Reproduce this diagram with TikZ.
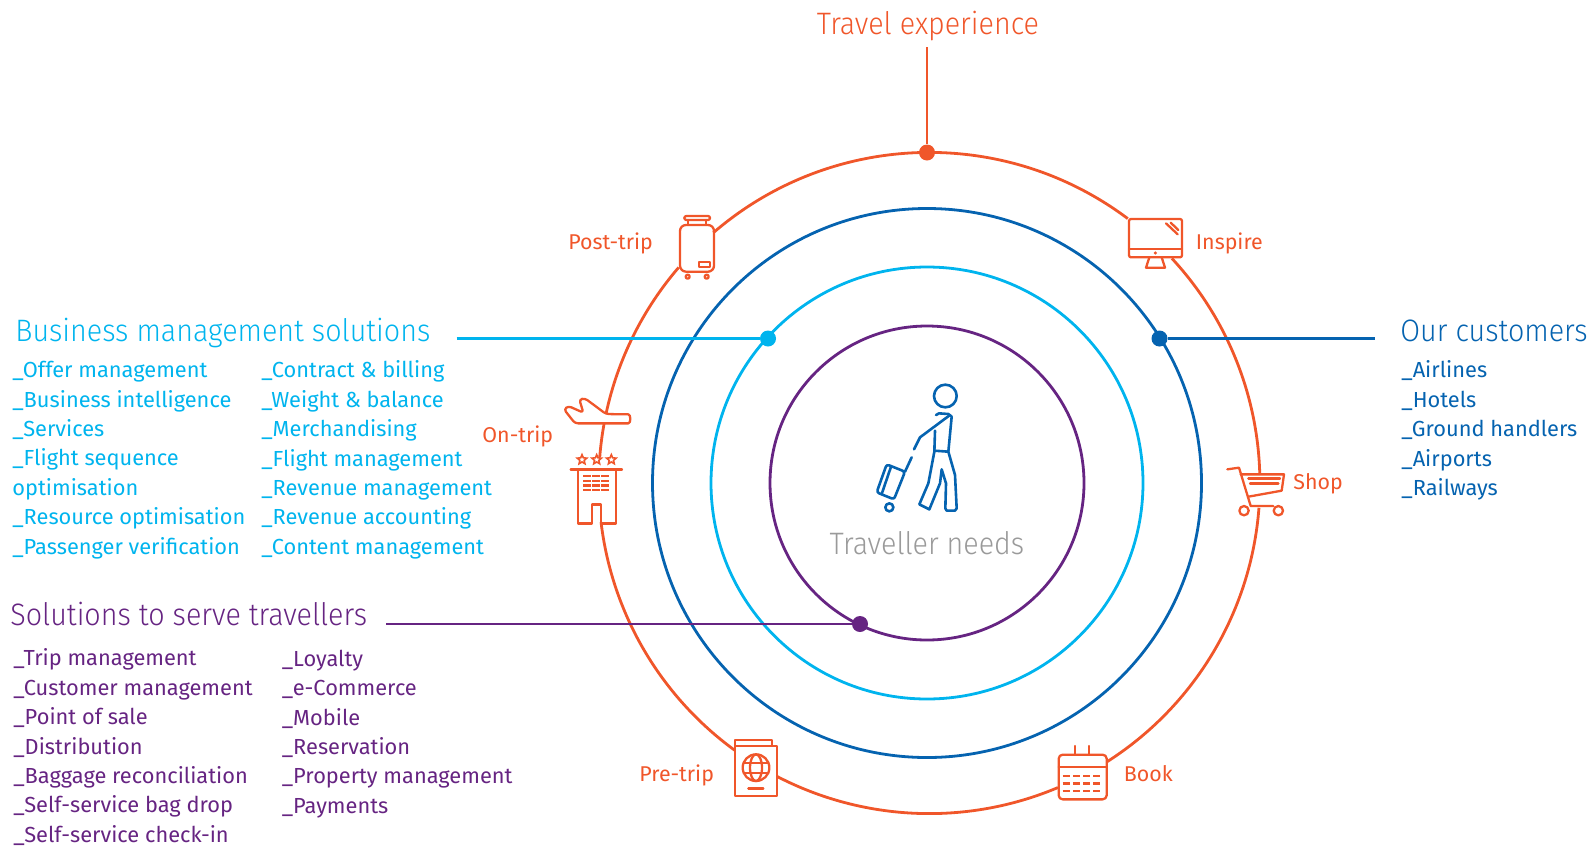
\documentclass[tikz,border=0pt]{standalone}
\usepackage{fontspec}
\setmainfont{Fira Sans}
\newfontfamily\lightfont[FakeStretch=0.925]{Fira Sans Light}
\usetikzlibrary{positioning, shapes}

\definecolor{tripcol}{HTML}{F0562A}
\definecolor{bluecol}{HTML}{0563B0}
\definecolor{cyancol}{HTML}{00B4EE}
\definecolor{purplecol}{HTML}{662482}
\definecolor{greycol}{HTML}{9A9A9A}

\tikzset{
    ring/.style={line width=1.4pt},
    icon/.style={draw=tripcol, line width=1.15pt, line join=round, line cap=round},
    walker/.style={draw=bluecol, line width=1.3pt, line join=round, line cap=round},
    zoomed/.style={shift={#1}, x=0.16667pt, y=-0.16667pt},
    spot/.style={circle, fill=#1, inner sep=0pt, minimum size=8pt},
    heading/.style={font=\lightfont\fontsize{15.5}{19}\selectfont, inner sep=0pt},
    stage/.style={font=\fontsize{10.7}{13}\selectfont, text=tripcol, inner sep=0pt},
    items/.style={font=\fontsize{10.9}{14.7}\selectfont, align=left, inner sep=0pt, anchor=north west},
    hotelstar/.style={star, star points=5, star point ratio=2.2, draw=tripcol, line width=0.8pt, inner sep=0pt, minimum size=5pt}
}

\begin{document}
\begin{tikzpicture}[x=0.5pt, y=-0.5pt]
    \useasboundingbox (0,0) rectangle (1594,847);

    % Rings
    \coordinate (centre) at (927,483);
    \coordinate (tripcentre) at (929.3,483);
    \draw[ring, purplecol] (centre) circle[radius=157];
    \draw[ring, cyancol] (centre) circle[radius=216];
    \draw[ring, bluecol] (centre) circle[radius=274.5];

    % Outer ring, cut at the icons
    \draw[ring, tripcol] (tripcentre) ++(229.2:330.6) arc[start angle=229.2, end angle=306.9, radius=330.6];
    \draw[ring, tripcol] (tripcentre) ++(-42.8:330.6) arc[start angle=-42.8, end angle=-1.7, radius=330.6];
    \draw[ring, tripcol] (tripcentre) ++(4.3:330.6) arc[start angle=4.3, end angle=57.5, radius=330.6];
    \draw[ring, tripcol] (tripcentre) ++(67.1:330.6) arc[start angle=67.1, end angle=117.4, radius=330.6];
    \draw[ring, tripcol] (tripcentre) ++(126.1:330.6) arc[start angle=126.1, end angle=173.2, radius=330.6];
    \draw[ring, tripcol] (tripcentre) ++(184.5:330.6) arc[start angle=184.5, end angle=190.3, radius=330.6];
    \draw[ring, tripcol] (tripcentre) ++(192.2:330.6) arc[start angle=192.2, end angle=220.7, radius=330.6];

    % Nodes
    \node[spot=tripcol] (expspot) at (927,152.5) {};
    \node[spot=cyancol] (bizspot) at (768,338.5) {};
    \node[spot=bluecol] (custspot) at (1159.5,338.5) {};
    \node[spot=purplecol] (servespot) at (860,624) {};
    \coordinate (expend) at (927,47);
    \coordinate (bizend) at (456.5,338.5);
    \coordinate (custend) at (1374.5,338.5);
    \coordinate (serveend) at (386,624);

    \node[heading, text=tripcol] (exptitle) at (928,26) {Travel experience};
    \node[heading, text=greycol] (needs) at (927,543) {Traveller needs};
    \node[heading, text=cyancol, anchor=west] (biztitle) at (15,333) {Business management solutions};
    \node[heading, text=bluecol, anchor=west] (custtitle) at (1400,331) {Our customers};
    \node[heading, text=purplecol, anchor=west] (servetitle) at (10,614) {Solutions to serve travellers};

    \node[stage, anchor=west] (posttrip) at (568,243) {Post-trip};
    \node[stage, anchor=west] (inspire) at (1195.5,243) {Inspire};
    \node[stage, anchor=west] (ontrip) at (482,436) {On-trip};
    \node[stage, anchor=west] (shop) at (1293,484) {Shop};
    \node[stage, anchor=west] (pretrip) at (639,775) {Pre-trip};
    \node[stage, anchor=west] (book) at (1123.5,774) {Book};

    \node[items, text=cyancol] (bizleft) at (12,361) {\_Offer management\\\_Business intelligence\\\_Services\\\_Flight sequence\\optimisation\\\_Resource optimisation\\\_Passenger verification};
    \node[items, text=cyancol] (bizright) at (261,360.5) {\_Contract \& billing\\\_Weight \& balance\\\_Merchandising\\\_Flight management\\\_Revenue management\\\_Revenue accounting\\\_Content management};
    \node[items, text=bluecol] (custlist) at (1401,360.5) {\_Airlines\\\_Hotels\\\_Ground handlers\\\_Airports\\\_Railways};
    \node[items, text=purplecol] (serveleft) at (13,648.5) {\_Trip management\\\_Customer management\\\_Point of sale\\\_Distribution\\\_Baggage reconciliation\\\_Self-service bag drop\\\_Self-service check-in};
    \node[items, text=purplecol] (serveright) at (281.5,649.5) {\_Loyalty\\\_e-Commerce\\\_Mobile\\\_Reservation\\\_Property management\\\_Payments};

    % Connections
    \draw[ring, tripcol] (expend) -- (expspot);
    \draw[ring, cyancol] (bizend) -- (bizspot);
    \draw[ring, bluecol] (custend) -- (custspot);
    \draw[ring, purplecol] (serveend) -- (servespot);

    % Traveller
    \begin{scope}[zoomed={(840,360)}]
        \draw[walker] (316,108) circle[radius=34];
        \draw[walker] (288,165) -- (297,160) -- (325,162) -- (335,170) -- (325,275) -- (345,345) -- (350,445) -- (345,452) -- (320,452) -- (316,445) -- (318,370) -- (305,328) -- (300,370) -- (268,448) -- (238,433) -- (265,370) -- (283,275) -- (285,212);
        \draw[walker] (283,272) -- (325,275);
        \draw[walker] (330,165) -- (240,232) -- (222,268);
        \draw[walker] (215,292) -- (195,335);
        \draw[walker, rounded corners=1.3pt] (140,313) -- (195,335) -- (162,418) -- (110,397) -- cycle;
        \draw[walker] (153,320) -- (125,402);
        \draw[walker] (148,442) circle[radius=12];
    \end{scope}

    % Post-trip bag, plane and hotel
    \begin{scope}[zoomed={(540,200)}]
        \draw[icon, rounded corners=1pt] (433,48) rectangle (510,60);
        \draw[icon] (445,60) -- (445,75) (497,60) -- (497,75);
        \draw[icon, rounded corners=3pt] (420,75) rectangle (522,215);
        \draw[icon] (478,187) rectangle (510,202);
        \draw[icon] (443,230) circle[radius=6] (500,230) circle[radius=6];
        \draw[icon, rounded corners=1.5pt] (72,628) -- (85,618) -- (130,638) -- (118,598) -- (135,595) -- (198,642) -- (256,643) to[out=0, in=0, looseness=1.6] (256,670) -- (105,670) -- cycle;
        \node[hotelstar] (staronea) at (126,779) {};
        \node[hotelstar] (staroneb) at (170,779) {};
        \node[hotelstar] (staronec) at (214,779) {};
        \draw[icon] (92,808) -- (246,808);
        \draw[icon] (113,808) -- (113,970) -- (157,970) -- (157,913) -- (183,913) -- (183,970) -- (227,970) -- (227,808);
        \draw[icon, line cap=butt, dash pattern=on 3.9pt off 0.5pt] (130,828) -- (208,828) (130,842) -- (208,842) (130,856) -- (208,856) (130,870) -- (208,870);
    \end{scope}

    % Monitor and cart
    \begin{scope}[zoomed={(1110,200)}]
        \draw[icon, rounded corners=1pt] (57,57) rectangle (216,172);
        \draw[icon] (57,146) -- (216,146);
        \fill[tripcol] (136,159) circle[radius=5];
        \draw[icon] (168,70) -- (203,103) (182,68) -- (205,90);
        \draw[icon] (118,172) -- (108,203) -- (165,203) -- (155,172);
        \draw[icon] (352,808) -- (387,803) -- (422,918) -- (490,918);
        \draw[icon] (392,823) -- (522,823) -- (515,872) -- (415,890);
        \draw[icon] (415,835) -- (510,835) (420,850) -- (505,850);
        \draw[icon] (402,932) circle[radius=14] (505,932) circle[radius=14];
    \end{scope}

    % Passport and calendar
    \begin{scope}[zoomed={(720,720)}]
        \draw[icon] (45,77) -- (45,60) -- (157,60) -- (157,77);
        \draw[icon] (45,77) rectangle (170,227);
        \draw[icon] (108,143) circle[radius=40];
        \draw[icon] (108,143) ellipse[x radius=18, y radius=40];
        \draw[icon] (71,128) -- (145,128) (71,158) -- (145,158);
        \draw[icon] (85,205) -- (130,205);
        \draw[icon, rounded corners=2pt] (1016,104) rectangle (1160,238);
        \draw[icon] (1016,140) -- (1160,140);
        \draw[icon] (1065,78) -- (1065,104) (1107,78) -- (1107,104);
        \draw[icon, line cap=butt, dash pattern=on 3.5pt off 1.6pt] (1028,168) -- (1148,168) (1028,190) -- (1148,190) (1028,212) -- (1148,212);
    \end{scope}
\end{tikzpicture}
\end{document}
